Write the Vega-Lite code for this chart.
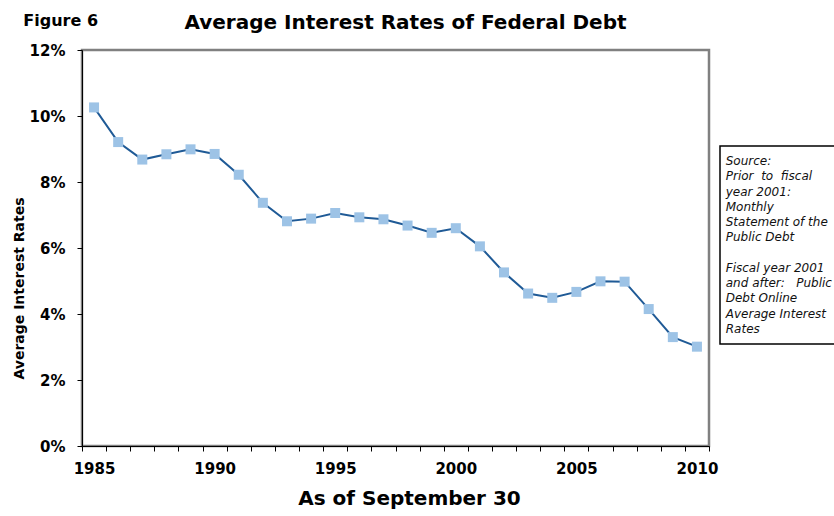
{
  "$schema": "https://vega.github.io/schema/vega-lite/v6.json",
  "background": "white",
  "padding": {"left": 10, "top": 11, "right": 1, "bottom": 4},
  "spacing": -4,
  "hconcat": [
    {
      "width": 627,
      "height": 396,
      "title": {"text": "Average Interest Rates of Federal Debt", "anchor": "middle", "frame": "group", "fontSize": 20, "offset": -20, "dx": 10},
      "view": {"stroke": "#808080", "strokeWidth": 2.5},
      "data": {"values": [
        {"year": 1985, "rate": 10.26}, {"year": 1986, "rate": 9.21}, {"year": 1987, "rate": 8.68},
        {"year": 1988, "rate": 8.84}, {"year": 1989, "rate": 8.99}, {"year": 1990, "rate": 8.85},
        {"year": 1991, "rate": 8.22}, {"year": 1992, "rate": 7.37}, {"year": 1993, "rate": 6.81},
        {"year": 1994, "rate": 6.89}, {"year": 1995, "rate": 7.06}, {"year": 1996, "rate": 6.93},
        {"year": 1997, "rate": 6.87}, {"year": 1998, "rate": 6.68}, {"year": 1999, "rate": 6.46},
        {"year": 2000, "rate": 6.60}, {"year": 2001, "rate": 6.05}, {"year": 2002, "rate": 5.26},
        {"year": 2003, "rate": 4.62}, {"year": 2004, "rate": 4.49}, {"year": 2005, "rate": 4.67},
        {"year": 2006, "rate": 4.99}, {"year": 2007, "rate": 4.98}, {"year": 2008, "rate": 4.15},
        {"year": 2009, "rate": 3.30}, {"year": 2010, "rate": 3.01}
      ]},
      "encoding": {
        "x": {
          "field": "year", "type": "ordinal",
          "scale": {"type": "band", "paddingInner": 0, "paddingOuter": 0},
          "axis": {
            "title": "As of September 30", "titleFontSize": 20, "titleFontWeight": "bold", "titleX": 327, "titlePadding": 12,
            "labelAngle": 0, "labelFontSize": 15, "labelPadding": 10,
            "labelExpr": "datum.value % 5 == 0 ? datum.label : ''",
            "tickBand": "extent", "tickSize": 5
          }
        },
        "y": {
          "field": "rate", "type": "quantitative",
          "scale": {"domain": [0, 12], "nice": false},
          "axis": {
            "title": "Average Interest Rates", "titleFontSize": 14, "titleFontWeight": "bold", "titleY": 238, "titlePadding": 3,
            "values": [0, 2, 4, 6, 8, 10, 12], "labelExpr": "datum.value + '%'",
            "labelFontSize": 15, "labelPadding": 12, "tickSize": 5
          }
        }
      },
      "layer": [
        {"mark": {"type": "line", "color": "#1F5A96", "strokeWidth": 2}},
        {"mark": {"type": "square", "size": 100, "color": "#9DC3E6", "opacity": 1, "filled": true}},
        {
          "transform": [{"filter": "datum.year == 1985"}],
          "mark": {"type": "text", "align": "right", "baseline": "alphabetic", "dx": 4, "fontSize": 16, "fontWeight": "bold", "font": "DejaVu Sans", "color": "black", "clip": false},
          "encoding": {
            "y": {"datum": 12.73, "type": "quantitative"},
            "text": {"value": "Figure 6"}
          }
        }
      ]
    },
    {
      "width": 115,
      "height": 294,
      "view": {"stroke": null},
      "layer": [
        {
          "data": {"values": [{"box": "source"}]},
          "mark": {"type": "rect", "fill": "white", "stroke": "black", "strokeWidth": 1.5, "clip": false},
          "encoding": {
            "x": {"datum": 0, "type": "quantitative"},
            "x2": {"datum": 1},
            "y": {"datum": 0, "type": "quantitative"},
            "y2": {"datum": 13}
          }
        },
        {
          "data": {"values": [
            {"line": 1, "text": "Source:"},
            {"line": 2, "text": "Prior\u00a0\u00a0to\u00a0\u00a0fiscal"},
            {"line": 3, "text": "year 2001:"},
            {"line": 4, "text": "Monthly"},
            {"line": 5, "text": "Statement of the"},
            {"line": 6, "text": "Public Debt"},
            {"line": 8, "text": "Fiscal year 2001"},
            {"line": 9, "text": "and after:\u00a0\u00a0\u00a0Public"},
            {"line": 10, "text": "Debt Online"},
            {"line": 11, "text": "Average Interest"},
            {"line": 12, "text": "Rates"}
          ]},
          "mark": {"type": "text", "align": "left", "baseline": "middle", "font": "DejaVu Sans", "fontStyle": "italic", "fontSize": 12, "color": "#111111"},
          "encoding": {
            "x": {"datum": 0.05, "type": "quantitative"},
            "y": {"field": "line", "type": "quantitative"},
            "text": {"field": "text"}
          }
        }
      ],
      "encoding": {
        "x": {"type": "quantitative", "scale": {"domain": [0, 1], "nice": false, "zero": false}, "axis": null},
        "y": {"type": "quantitative", "scale": {"domain": [-6.3, 13], "reverse": true, "nice": false, "zero": false}, "axis": null}
      }
    }
  ],
  "config": {
    "font": "DejaVu Sans",
    "axis": {"domainColor": "black", "tickColor": "black", "labelColor": "black", "titleColor": "black", "grid": false, "labelFont": "DejaVu Sans", "labelFontWeight": "bold", "titleFont": "DejaVu Sans"},
    "title": {"color": "black", "font": "DejaVu Sans", "fontWeight": "bold"}
  }
}
